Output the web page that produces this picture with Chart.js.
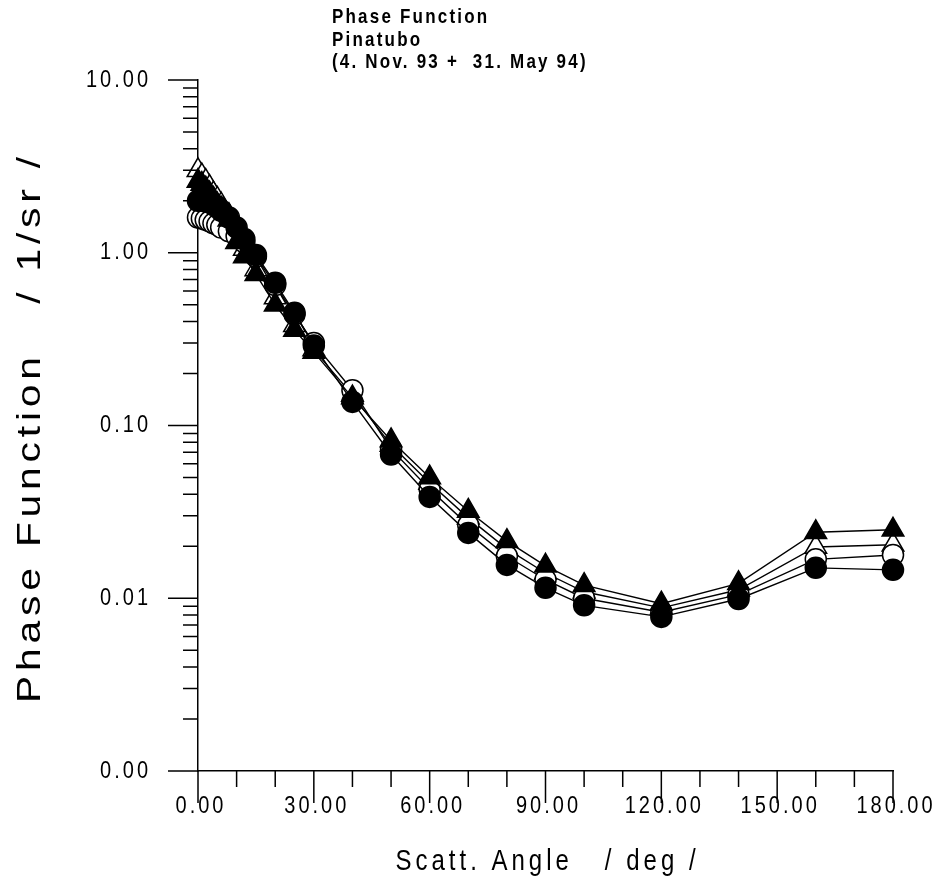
<!DOCTYPE html>
<html>
<head>
<meta charset="utf-8">
<script src="https://cdn.jsdelivr.net/npm/chart.js@4/dist/chart.umd.min.js"></script>
<style>
    html, body { margin: 0; padding: 0; background: #fff; }
    canvas { display: block; }
</style>
</head>
<body>
<canvas id="grafica" width="934" height="885"></canvas>
<script>
var TITULO = ['Phase Function', 'Pinatubo', '(4. Nov. 93 +  31. May 94)'];
var TITULO_X = 'Scatt. Angle   / deg /';
var TITULO_Y = 'Phase Function   / 1/sr /';

var ANGULOS = [0, 1, 2, 3, 4, 5, 6, 8, 10, 12, 15, 20, 25, 30, 40, 50, 60, 70, 80, 90, 100, 120, 140, 160, 180];

var CIRCULO_LLENO = [2.0, 2.0, 1.98, 1.95, 1.9, 1.85, 1.75, 1.6, 1.4, 1.2, 0.97, 0.67, 0.45, 0.29, 0.137, 0.068, 0.0386, 0.0239, 0.0156, 0.0115, 0.0091, 0.0078, 0.0099, 0.015, 0.0146];
var CIRCULO_ABIERTO = [1.6, 1.58, 1.55, 1.52, 1.48, 1.45, 1.4, 1.33, 1.25, 1.15, 0.95, 0.65, 0.44, 0.30, 0.16, 0.073, 0.0428, 0.0265, 0.0175, 0.0128, 0.0100, 0.0083, 0.0105, 0.0168, 0.0178];
var TRIANGULO_LLENO = [2.6, 2.5, 2.35, 2.2, 2.05, 1.9, 1.8, 1.55, 1.15, 0.95, 0.75, 0.5, 0.357, 0.266, 0.145, 0.082, 0.050, 0.032, 0.0214, 0.0154, 0.0119, 0.0093, 0.0122, 0.0241, 0.0249];
var TRIANGULO_ABIERTO = [3.0, 2.8, 2.6, 2.4, 2.2, 2.05, 1.9, 1.65, 1.3, 1.05, 0.8, 0.55, 0.38, 0.275, 0.15, 0.077, 0.0465, 0.0292, 0.0193, 0.0140, 0.0109, 0.0088, 0.0112, 0.0198, 0.0204];

var X_MARCAS = [0, 30, 60, 90, 120, 150, 180];
var X_ETIQUETAS = ['0.00', '30.00', '60.00', '90.00', '120.00', '150.00', '180.00'];
var Y_DECADAS = [0.001, 0.01, 0.1, 1, 10];
var Y_ETIQUETAS = ['0.00', '0.01', '0.10', '1.00', '10.00'];

var FUENTE = "'Liberation Sans', Arial, sans-serif";

function puntos(valores) {
    return ANGULOS.map(function (a, i) {
        return {x: a, y: valores[i]};
    });
}

function serie(valores, estilo, relleno, radio, orden) {
    return {
        data: puntos(valores),
        showLine: true,
        borderColor: '#000',
        borderWidth: 1.4,
        tension: 0,
        pointStyle: estilo,
        pointRadius: radio,
        pointBackgroundColor: relleno,
        pointBorderColor: '#000',
        pointBorderWidth: 1.5,
        clip: false,
        order: orden,
    };
}

// texto alargado en vertical (letras altas y estrechas)
function texto(ctx, t, x, y, alto) {
    ctx.save();
    ctx.translate(x, y);
    ctx.scale(1, alto);
    ctx.fillText(t, 0, 0);
    ctx.restore();
}

// marcas de los ejes, etiquetas y títulos con espaciado entre letras
var marcasEjes = {
    id: 'marcasEjes',
    afterDraw: function (chart) {
        var ctx = chart.ctx;
        var area = chart.chartArea;
        var sx = chart.scales.x;
        var sy = chart.scales.y;

        ctx.save();
        ctx.strokeStyle = '#000';
        ctx.fillStyle = '#000';
        ctx.lineWidth = 1.5;
        ctx.beginPath();

        sy.ticks.forEach(function (t) {
            var py = sy.getPixelForValue(t.value);
            var largo = t.major ? 30 : 15;
            ctx.moveTo(area.left - largo, py);
            ctx.lineTo(area.left, py);
        });

        sx.ticks.forEach(function (t) {
            var px = sx.getPixelForValue(t.value);
            var largo = X_MARCAS.indexOf(t.value) !== -1 ? 32 : 16;
            ctx.moveTo(px, area.bottom);
            ctx.lineTo(px, area.bottom + largo);
        });
        ctx.stroke();

        ctx.textBaseline = 'middle';

        ctx.font = '20px ' + FUENTE;
        ctx.letterSpacing = '3px';
        ctx.textAlign = 'right';
        Y_DECADAS.forEach(function (d, i) {
            texto(ctx, Y_ETIQUETAS[i], 151, sy.getPixelForValue(d), 1.22);
        });

        ctx.textAlign = 'center';
        X_MARCAS.forEach(function (m, i) {
            texto(ctx, X_ETIQUETAS[i], sx.getPixelForValue(m) + 3, 806, 1.22);
        });

        ctx.font = '24px ' + FUENTE;
        ctx.letterSpacing = '4px';
        texto(ctx, TITULO_X, (area.left + area.right) / 2 + 2, 862, 1.22);

        ctx.save();
        ctx.font = '34px ' + FUENTE;
        ctx.letterSpacing = '4px';
        ctx.translate(31, (area.top + area.bottom) / 2 + 2);
        ctx.rotate(-Math.PI / 2);
        ctx.scale(1.2, 1);
        ctx.fillText(TITULO_Y, 0, 0);
        ctx.restore();

        ctx.font = 'bold 17px ' + FUENTE;
        ctx.letterSpacing = '2.2px';
        ctx.textAlign = 'left';
        TITULO.forEach(function (linea, i) {
            texto(ctx, linea, 332, 18 + i * 22.5, 1.15);
        });

        ctx.restore();
    },
};

new Chart(document.getElementById('grafica'), {
    type: 'scatter',
    data: {
        datasets: [
            serie(TRIANGULO_ABIERTO, 'triangle', '#fff', 12.5, 3),
            serie(CIRCULO_ABIERTO, 'circle', '#fff', 10.5, 2),
            serie(TRIANGULO_LLENO, 'triangle', '#000', 12.5, 1),
            serie(CIRCULO_LLENO, 'circle', '#000', 10.5, 0),
        ],
    },
    options: {
        responsive: false,
        animation: false,
        events: [],
        layout: {padding: {left: 0, top: 80, right: 41, bottom: 0}},
        plugins: {
            legend: {display: false},
            tooltip: {enabled: false},
        },
        scales: {
            x: {
                type: 'linear',
                min: 0,
                max: 180,
                ticks: {display: false, stepSize: 10},
                grid: {display: false},
                border: {display: true, color: '#000', width: 1.5},
                afterFit: function (s) { s.height = 114; },
            },
            y: {
                type: 'logarithmic',
                min: 0.001,
                max: 10,
                ticks: {display: false},
                grid: {display: false},
                border: {display: true, color: '#000', width: 1.5},
                afterBuildTicks: function (s) {
                    var ticks = [];
                    Y_DECADAS.forEach(function (d, i) {
                        ticks.push({value: d, major: true});
                        if (i < Y_DECADAS.length - 1) {
                            for (var m = 2; m <= 9; m++) {
                                ticks.push({value: d * m});
                            }
                        }
                    });
                    s.ticks = ticks;
                },
                afterFit: function (s) { s.width = 198; },
            },
        },
    },
    plugins: [marcasEjes],
});
</script>
</body>
</html>
